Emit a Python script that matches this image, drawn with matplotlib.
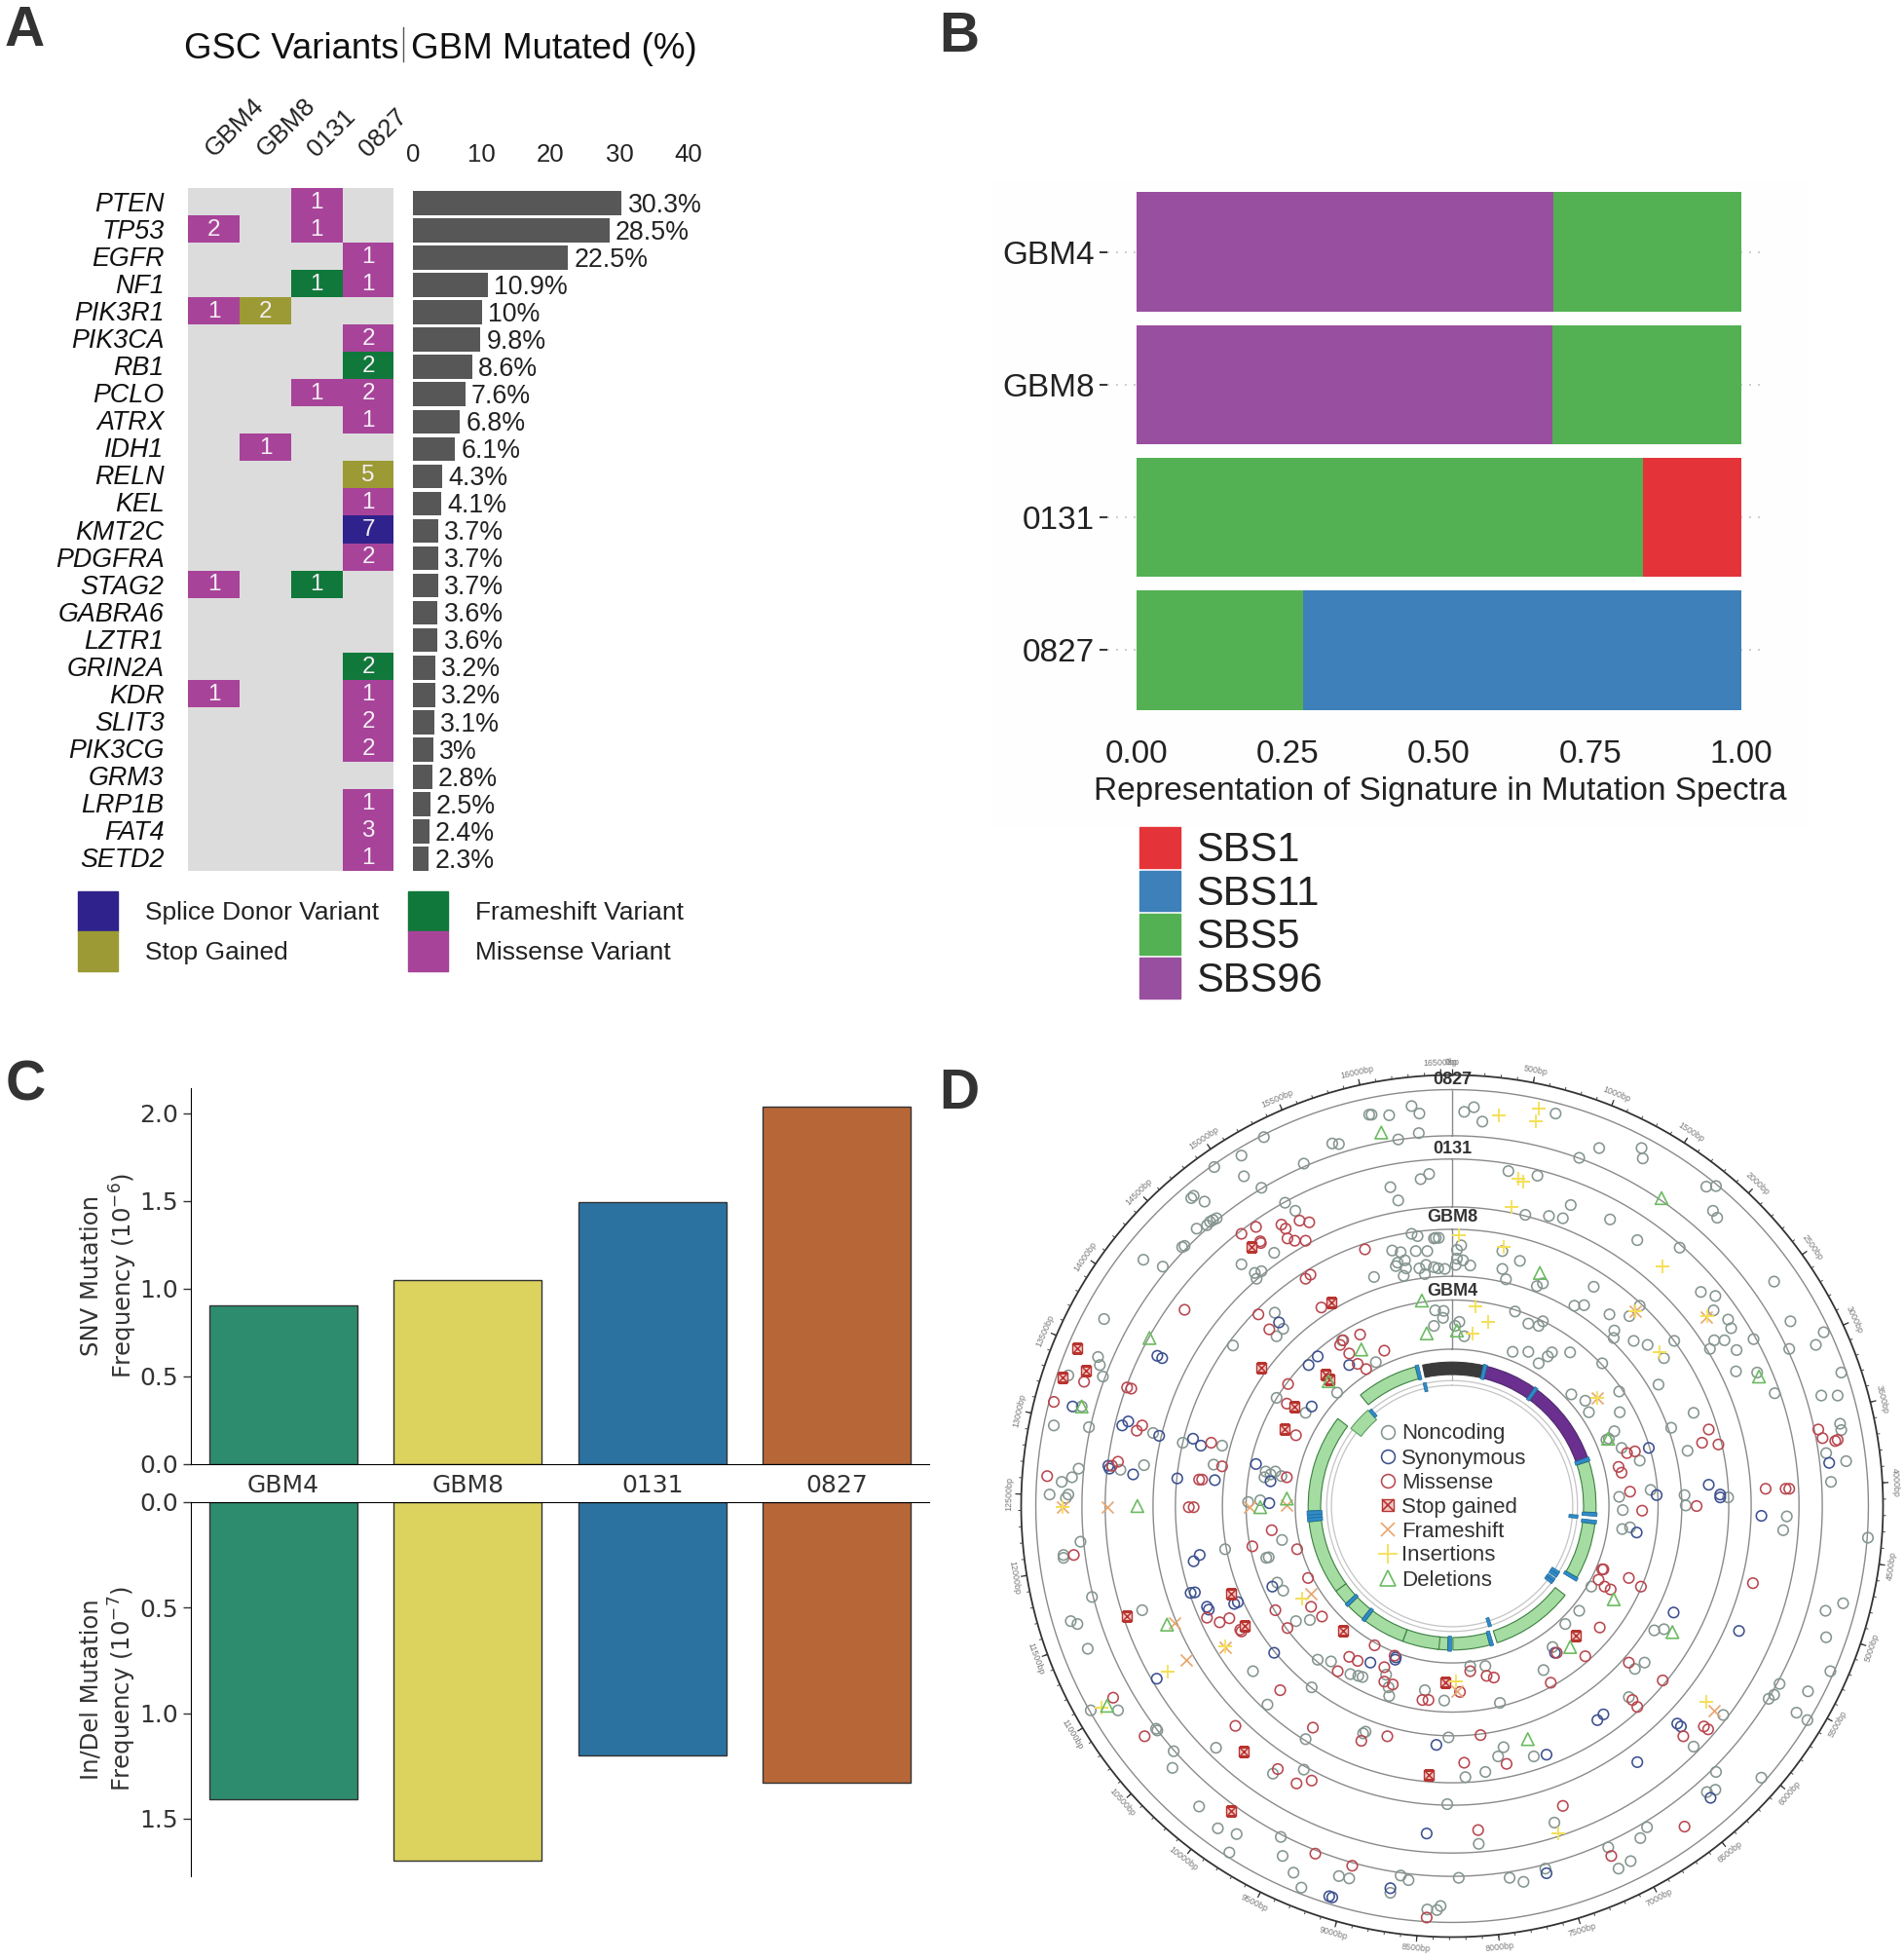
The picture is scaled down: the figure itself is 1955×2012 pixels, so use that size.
import numpy as np
import matplotlib
matplotlib.use("Agg")
import matplotlib.pyplot as plt
from matplotlib.colors import ListedColormap, BoundaryNorm
from matplotlib.legend_handler import HandlerTuple
from matplotlib.lines import Line2D
from matplotlib.patches import Patch, Rectangle

W, H = 1956, 2012
plt.rcParams['font.family'] = ['Liberation Sans', 'DejaVu Sans']
fig = plt.figure(figsize=(W / 100, H / 100), dpi=100, facecolor='white')


def axpx(l, t, r, b, **kw):
    return fig.add_axes([l / W, 1 - b / H, (r - l) / W, (b - t) / H], **kw)


def ftext(x, y, s, **kw):
    return fig.text(x / W, 1 - y / H, s, **kw)


# ---------------- Panel A data ----------------
genes = ['PTEN', 'TP53', 'EGFR', 'NF1', 'PIK3R1', 'PIK3CA', 'RB1', 'PCLO', 'ATRX', 'IDH1', 'RELN', 'KEL',
         'KMT2C', 'PDGFRA', 'STAG2', 'GABRA6', 'LZTR1', 'GRIN2A', 'KDR', 'SLIT3', 'PIK3CG', 'GRM3', 'LRP1B',
         'FAT4', 'SETD2']
samples = ['GBM4', 'GBM8', '0131', '0827']
gbm_pct = [30.3, 28.5, 22.5, 10.9, 10, 9.8, 8.6, 7.6, 6.8, 6.1, 4.3, 4.1, 3.7, 3.7, 3.7, 3.6, 3.6, 3.2, 3.2,
           3.1, 3, 2.8, 2.5, 2.4, 2.3]
# gene, sample, count, consequence
variants = [('PTEN', '0131', 1, 'M'), ('TP53', 'GBM4', 2, 'M'), ('TP53', '0131', 1, 'M'), ('EGFR', '0827', 1, 'M'),
            ('NF1', '0131', 1, 'F'), ('NF1', '0827', 1, 'M'), ('PIK3R1', 'GBM4', 1, 'M'),
            ('PIK3R1', 'GBM8', 2, 'S'), ('PIK3CA', '0827', 2, 'M'), ('RB1', '0827', 2, 'F'),
            ('PCLO', '0131', 1, 'M'), ('PCLO', '0827', 2, 'M'), ('ATRX', '0827', 1, 'M'), ('IDH1', 'GBM8', 1, 'M'),
            ('RELN', '0827', 5, 'S'), ('KEL', '0827', 1, 'M'), ('KMT2C', '0827', 7, 'D'),
            ('PDGFRA', '0827', 2, 'M'), ('STAG2', 'GBM4', 1, 'M'), ('STAG2', '0131', 1, 'F'),
            ('GRIN2A', '0827', 2, 'F'), ('KDR', 'GBM4', 1, 'M'), ('KDR', '0827', 1, 'M'), ('SLIT3', '0827', 2, 'M'),
            ('PIK3CG', '0827', 2, 'M'), ('LRP1B', '0827', 1, 'M'), ('FAT4', '0827', 3, 'M'), ('SETD2', '0827', 1, 'M')]
cons_names = {'D': 'Splice Donor Variant', 'S': 'Stop Gained', 'F': 'Frameshift Variant', 'M': 'Missense Variant'}
cons_colors = {'D': '#2f228c', 'S': '#9b9a34', 'F': '#10783a', 'M': '#a8439a'}
HEAT_BG = '#dcdcdc'

# ---------------- Panel B data ----------------
spec_samples = ['GBM4', 'GBM8', '0131', '0827']
sbs96 = [0.69, 0.687, 0, 0]
sbs5 = [0.31, 0.313, 0.837, 0.275]
sbs1 = [0, 0, 0.163, 0]
sbs11 = [0, 0, 0, 0.725]
sbs_colors = {'SBS1': '#e4343a', 'SBS11': '#3e80ba', 'SBS5': '#53b153', 'SBS96': '#994f9f'}

# ---------------- Panel C data ----------------
freq_samples = ['GBM4', 'GBM8', '0131', '0827']
snv_freq = [0.905, 1.05, 1.495, 2.04]
indel_freq = [1.41, 1.70, 1.20, 1.33]
freq_colors = ['#2e8c6e', '#dcd35e', '#2b72a1', '#b76737']

# ---------------- Panel D data (offsets in reading units) ----------------
noncoding = [(687,105),(683,105),(716,106),(753,90),(766,103),(765,137),(731,148),(856,92),(840,100),(870,117),(991,103),
(622,155),(633,156),(509,144),(472,176),(427,196),(476,212),(575,190),(505,232),(389,250),(393,246),(411,256),(310,357),(342,369),(378,333),(374,335),(398,303),(415,297),(425,288),(431,285),(420,291),(245,460),
(1030,180),(1063,163),(1133,163),(1135,181),(1240,230),(1256,229),(1251,272),(1258,284),(1196,336),(1352,395),(1126,323),(1081,287),(1016,262),(1003,285),(980,281),(941,279),
(913,203),(961,211),(768,217),(782,208),(718,231),(731,254),(544,258),(561,272),(526,345),(472,365),(494,380),(505,377),(497,390),
(793,319),(798,319),(753,312),(763,316),(721,341),(735,344),(742,358),(760,342),(779,342),(790,320),(835,332),(828,340),(744,372),(727,368),(740,385),(691,387),(777,366),(790,370),(775,382),(797,372),(808,373),(826,366),(838,358),(850,367),(828,355),(766,372),(730,362),(903,342),(932,359),(903,373),(909,391),(960,403),(970,398),(1054,404),(1022,437),(1038,436),
(1231,413),(1255,420),(1252,445),(1276,461),(1281,476),(1379,464),(1434,483),(1421,505),(1377,512),(1318,495),(1270,497),(1253,497),(1246,512),(1290,514),(1289,551),(1324,553),(1353,589),(1463,553),(1457,593),(1430,593),(1161,574),(1187,498),(1120,498),(1143,505),(1088,480),(1087,493),(1080,452),(1113,455),(1130,437),(1170,528),(1068,537),(1096,586),(1097,622),(1046,622),(1040,602),(1017,591),(1219,623),(1182,649),(1209,689),(1130,706),(1100,684),(1088,655),(1075,670),(1079,668),
(1461,642),(1463,653),(1471,707),(1438,693),(1446,743),(1507,840),(1204,766),(1206,784),(1102,792),(1096,769),(1148,757),(1101,825),(1114,822),(1276,770),(1367,827),(1373,803),
(924,447),(946,468),(970,464),(963,472),(920,517),(946,517),(978,525),(963,537),(985,518),(1015,518),(792,445),(806,446),(805,458),(790,472),(832,465),(825,472),(840,490),(638,497),(527,449),
(458,506),(541,477),(530,490),(530,597),(578,623),(630,588),(694,535),(186,558),(235,526),(238,540),(243,560),(220,648),(162,645),(208,612),(203,720),(192,735),(175,743),(155,765),(186,765),(182,771),(311,714),(272,722),(375,675),(426,713),(440,680),(326,658),(483,778),(512,725),(528,725),(503,775),(538,733),(539,844),(445,860),(513,875),(206,847),(178,875),(178,870),(225,943),(190,985),(201,990),(218,1033),(308,966),(223,1140),(268,1140),(331,1172),(333,1175),(360,1211),(358,1240),(402,1307),(433,1345),(464,1355),(452,1387),(537,1360),(540,1393),(558,1422),(571,1448),(633,1428),(650,1432),(735,1427),(748,1435),(718,1457),(779,1486),(801,1480),(795,1487),(831,1431),(915,1431),(938,1438),(974,1415),(1078,1378),(1095,1415),(1115,1402),(1131,1362),(1142,1343),(989,1335),(864,1372),(812,1303),
(430,1205),(524,1250),(575,1243),(578,1190),(491,1072),(515,1130),(588,1100),(598,1052),(620,1055),(652,1077),(665,1080),(672,1082),(673,1180),(677,1177),(715,1100),(711,1078),(716,1115),(775,1105),(807,1123),(899,1127),(875,1063),(850,1063),(814,1187),(905,1204),(896,1220),(955,1220),(875,1247),(842,1256),(1007,990),(1030,967),(1050,925),
(971,1070),(986,1030),(1138,1057),(1122,1068),(1112,1117),(1219,1203),(1256,1247),(1255,1278),(1241,1282),(1268,1148),(1343,1120),(1352,1113),(1361,1094),(1408,1107),(1389,1144),(1407,1157),(1445,1072),(1438,1013),(1437,967),(1466,954),(1331,1257),(1154,1001),(1170,999),(562,985),(585,983),(541,932),(531,918),(517,874),(510,735),(520,730)]
synonymous = [(193,612),(275,645),(285,638),(336,663),(252,715),(254,720),(293,730),(392,668),(405,680),(366,737),(428,740),(496,712),(520,742),(518,780),(534,466),(598,525),(588,612),(650,540),(1145,684),(1443,710),(1244,748),(1263,765),(1263,770),(1158,766),(1331,802),(1125,831),(333,524),(341,528),(403,870),(393,881),(388,936),(395,935),(415,960),(418,965),(466,952),(460,955),(523,925),(526,1040),(332,1085),(685,1057),(727,1048),(726,1052),(990,1040),(1186,970),(1294,1002),(1060,1157),(1070,1147),(1192,1163),(1198,1168),(1126,1230),(976,1217),(794,1200),(778,1354),(1247,1292),(718,1449),(622,1465),(617,1463),(976,1423),(583,540)]
missense = [(496,300),(472,312),(504,328),(538,296),(545,303),(568,289),(584,292),(548,320),(578,324),(560,324),(503,325),(586,383),(578,390),(378,444),(500,452),(518,478),(604,440),(640,497),(668,487),(708,515),(650,520),(678,547),(664,538),(635,505),(676,339),(162,604),(212,569),(283,579),(290,581),(308,645),(299,654),(268,708),(258,715),(151,733),(195,870),(549,573),(547,607),(562,662),(547,735),(440,716),(402,739),(407,739),(422,675),(393,787),(385,787),(522,827),(490,855),(564,860),(1244,652),(1233,675),(1260,678),(1425,652),(1432,667),(1453,672),(1457,670),(1109,693),(1122,690),(1095,717),(1100,727),(1114,760),(1134,793),(1224,785),(1338,755),(1371,755),(1377,755),(1068,895),(1070,895),(1062,913),(1072,925),(1082,930),(1112,910),(1132,925),(1317,919),(582,910),(587,960),(415,979),(436,987),(452,980),(470,1000),(472,1003),(528,966),(548,997),(605,977),(692,1027),(650,1047),(664,1054),(725,1045),(708,1065),(631,1072),(708,1090),(722,1095),(536,1105),(462,1167),(590,1170),(312,1185),(260,1118),(670,1193),(713,1185),(771,1122),(781,1122),(850,1072),(833,1108),(877,1080),(889,1083),(983,1092),(993,1040),(1040,1046),(1064,996),(1112,1057),(1168,1088),(1118,1122),(1126,1134),(1202,1185),(1236,1168),(1243,1173),(867,1183),(840,1231),(910,1233),(532,1242),(563,1267),(588,1262),(1003,1306),(1204,1342),(863,1348),(1083,1393),(594,1389),(655,1410),(778,1500)]
stop_gained = [(200,511),(177,562),(215,549),(488,334),(621,431),(505,544),(611,556),(618,565),(560,612),(543,652),(454,938),(477,994),(283,976),(639,1001),(476,1212),(455,1315),(781,1253),(808,1091),(1024,1010)]
frameshift = [(177,787),(251,786),(485,787),(547,784),(587,937),(445,1030),(362,988),(380,1053),(828,1107),(1253,1140),(1240,457),(1122,447),(1060,597)]
insertions = [(897,106),(963,95),(959,117),(930,216),(937,221),(918,266),(1168,368),(831,314),(905,335),(859,438),(880,465),(853,485),(1162,517),(1241,455),(1122,447),(1060,597),(573,946),(445,1028),(350,1072),(240,1135),(177,787),(995,1354),(1240,1125),(827,1090)]
deletions = [(703,136),(1166,250),(965,380),(770,428),(320,493),(670,513),(778,485),(828,480),(1327,560),(616,568),(208,612),(1078,668),(300,785),(503,787),(547,772),(1087,947),(1184,1004),(1015,1030),(349,991),(250,1132),(945,1190)]

GENOME = 16569
dloop = [(16024, 16569), (0, 576)]
rrna = [(648, 1601), (1671, 3229)]
genes_outer = [(3307, 4262), (4470, 5511), (5904, 7445), (7586, 8269), (8366, 8572), (8527, 9207), (9207, 9990),
               (10059, 10404), (10470, 10766), (10760, 12137), (12337, 14148), (14747, 15887)]
genes_inner = [(14149, 14673)]
trna_outer = [(577, 647), (1602, 1670), (3230, 3304), (4263, 4331), (4402, 4469), (5512, 5579), (7518, 7585),
              (8295, 8364), (9991, 10058), (10405, 10469), (12138, 12206), (12207, 12265), (12266, 12336),
              (15888, 15953)]
trna_inner = [(4329, 4400), (5587, 5655), (5657, 5729), (5761, 5826), (5826, 5891), (7446, 7514), (14674, 14742),
              (15956, 16023)]
track_rings = [1.0, 0.966, 0.859, 0.805, 0.694, 0.642, 0.533, 0.478, 0.364]
track_spans = [(0.859, 0.966), (0.694, 0.805), (0.533, 0.642), (0.364, 0.478)]
track_labels = [('0827', 0.988), ('0131', 0.829), ('GBM8', 0.671), ('GBM4', 0.499)]

# ---------------- Panel A ----------------
code = {'M': 1, 'F': 2, 'S': 3, 'D': 4}
mat = np.zeros((len(genes), len(samples)))
ax = axpx(193.5, 193, 404.5, 894)
cmap = ListedColormap([HEAT_BG, cons_colors['M'], cons_colors['F'], cons_colors['S'], cons_colors['D']])
for g, s, n, c in variants:
    mat[genes.index(g), samples.index(s)] = code[c]
ax.pcolormesh(np.arange(5) - .5, np.arange(26) - .5, mat, cmap=cmap,
              norm=BoundaryNorm(np.arange(-.5, 5), 5))
for g, s, n, c in variants:
    ax.annotate(str(n), (samples.index(s), genes.index(g)), xytext=(0, -0.6), textcoords='offset points',
                color='#f4eef4', fontsize=17.5, ha='center', va='center')
ax.set_ylim(24.5, -.5)
ax.set_yticks(range(len(genes)), genes, fontsize=19.4, style='italic', color='#111111')
ax.set_xticks([])
for i, s in enumerate(samples):
    ax.annotate(s, (i, 1), xycoords=('data', 'axes fraction'), xytext=(-3.5, 26), textcoords='offset points',
                fontsize=18.8, rotation=45, rotation_mode='anchor', ha='left', va='center', color='#222222',
                annotation_clip=False)
ax.tick_params(axis='y', length=0, pad=18)
for s in ax.spines.values():
    s.set_visible(False)

ax = axpx(424, 194.5, 707, 895.5)
ax.barh(range(len(genes)), gbm_pct, height=0.88, color='#575757')
for i, v in enumerate(gbm_pct):
    ax.annotate(f'{v:g}%', (v, i), xytext=(4.4, -1.6), textcoords='offset points', fontsize=19.3, va='center',
                color='#222222')
ax.set_ylim(24.5, -.5)
ax.set_xlim(0, 40)
ax.xaxis.tick_top()
ax.set_xticks([0, 10, 20, 30, 40])
ax.tick_params(axis='x', length=0, pad=17, labelsize=18.5, labelcolor='#222222')
ax.set_yticks([])
ax.patch.set_visible(False)
for s in ax.spines.values():
    s.set_visible(False)
ftext(189, 50, 'GSC Variants', fontsize=26.3, va='center', ha='left', color='#111111')
ftext(422, 50, 'GBM Mutated (%)', fontsize=26.5, va='center', ha='left', color='#111111')
fig.add_artist(Line2D([414 / W] * 2, [1 - 28 / H, 1 - 63 / H], color='#555555', lw=1))
handles = [Patch(color=cons_colors[k], label=cons_names[k]) for k in 'DSFM']
fig.legend(handles=handles, ncol=2, frameon=False, fontsize=19, loc='upper left', borderpad=0, borderaxespad=0,
           bbox_to_anchor=(80 / W, 1 - 915 / H), handlelength=1.55, handleheight=2.0, labelspacing=0.0,
           handletextpad=1.07, columnspacing=1.12, labelcolor='#222222')

# ---------------- Panel B ----------------
fig.add_artist(Rectangle((1018 / W, 1 - 850 / H), 838 / W, 665 / H, transform=fig.transFigure, fc='#fefefe', ec='none',
                         zorder=-5))
ax = axpx(1137, 177, 1813, 749)
ax.patch.set_visible(False)
lefts = np.zeros(4)
for name, vals in [('SBS96', sbs96), ('SBS5', sbs5), ('SBS1', sbs1), ('SBS11', sbs11)]:
    ax.barh(range(4), vals, left=lefts, height=0.9, color=sbs_colors[name], label=name, zorder=3)
    lefts += np.array(vals)
ax.set_xlim(-30 / 621, 1 + 25 / 621)
ax.set_ylim(3.6, -.6)
ax.set_yticks(range(4), spec_samples, fontsize=24, color='#222222')
ax.set_xticks([0, .25, .5, .75, 1], ['0.00', '0.25', '0.50', '0.75', '1.00'], fontsize=24, color='#222222')
ax.tick_params(axis='y', length=5.8, width=1.4, pad=3.6, color='#333333')
ax.tick_params(axis='x', length=0, pad=7)
ax.grid(axis='y', ls=(0, (1, 4)), color='#c4c4c4', lw=1.3, zorder=0)
ax.set_xlabel('Representation of Signature in Mutation Spectra', fontsize=24, color='#222222', labelpad=5, x=0.505)
for s in ax.spines.values():
    s.set_visible(False)
handles = [Patch(color=sbs_colors[k], label=k) for k in ['SBS1', 'SBS11', 'SBS5', 'SBS96']]
fig.legend(handles=handles, frameon=False, fontsize=30, loc='upper left', borderpad=0, borderaxespad=0,
           bbox_to_anchor=(1170 / W, 1 - 849 / H), handlelength=1.0, handleheight=1.16, labelspacing=0.02,
           handletextpad=0.39, labelcolor='#222222')

# ---------------- Panel C ----------------
dj = ['DejaVu Sans']
ax = axpx(196, 1117, 954, 1503)
ax.bar(range(4), snv_freq, width=0.8, color=freq_colors, edgecolor='#333333', lw=1)
ax.set_xlim(-.5, 3.5)
ax.set_ylim(0, 386 / 180)
ax.set_yticks([0, .5, 1, 1.5, 2], ['0.0', '0.5', '1.0', '1.5', '2.0'], fontsize=18, family=dj, color='#333333')
ax.set_xticks(range(4), freq_samples, fontsize=18, family=dj, color='#333333')
ax.tick_params(axis='x', length=0, pad=7)
ax.tick_params(axis='y', length=6, width=1, color='#333333')
ax.set_ylabel('SNV Mutation\nFrequency ($10^{-6}$)', fontsize=17.5, family=dj, color='#333333', labelpad=0)
ax.spines[['top', 'right']].set_visible(False)

ax = axpx(196, 1541.5, 954, 1926)
ax.bar(range(4), indel_freq, width=0.8, color=freq_colors, edgecolor='#333333', lw=1)
ax.set_xlim(-.5, 3.5)
ax.set_ylim(384.5 / 217, 0)
ax.set_yticks([0, .5, 1, 1.5], ['0.0', '0.5', '1.0', '1.5'], fontsize=18, family=dj, color='#333333')
ax.xaxis.tick_top()
ax.set_xticks([])
ax.tick_params(axis='y', length=6, width=1, color='#333333')
ax.set_ylabel('In/Del Mutation\nFrequency ($10^{-7}$)', fontsize=17.5, family=dj, color='#333333', labelpad=0.5)
ax.spines[['bottom', 'right']].set_visible(False)

# ---------------- Panel D ----------------
CX, CY, R = 1491, 1546, 442.5
RMAX = 1.12
ax = axpx(CX - R * RMAX, CY - R * RMAX, CX + R * RMAX, CY + R * RMAX, projection='polar')
ax.set_theta_zero_location('N')
ax.set_theta_direction(-1)
ax.set_ylim(0, RMAX)
ax.axis('off')
ax.patch.set_visible(False)


def th(bp):
    return np.asarray(bp) / GENOME * 2 * np.pi


def to_bp_r(points):
    p = np.array(points, float)
    dx, dy = (p[:, 0] - 820) / 712, (785 - p[:, 1]) / 749
    return (np.arctan2(dx, dy) % (2 * np.pi)) / (2 * np.pi) * GENOME, np.hypot(dx, dy)


circle = np.linspace(0, 2 * np.pi, 721)
for i, r in enumerate(track_rings):
    ax.plot(circle, np.full_like(circle, r), color='#333333' if i == 0 else '#8a8a8a', lw=1.3 if i == 0 else 1.0,
            zorder=1)
for r0, r1 in track_spans:
    ax.vlines(0, r0, r1, color='#8a8a8a', lw=1.0, zorder=1)
for r in (0.291, 0.28):
    ax.plot(circle, np.full_like(circle, r), color='#c4c4c4', lw=0.9, zorder=1)
ax.vlines(0, 0.291, 0.305, color='#aaaaaa', lw=0.8, zorder=1)

minor_bp = np.arange(0, GENOME, 100)
major_bp = np.arange(0, GENOME, 500)
ax.vlines(th(minor_bp), 1.0, 1.007, color='#444444', lw=0.7, zorder=1)
ax.vlines(th(major_bp), 1.0, 1.014, color='#333333', lw=0.9, zorder=1)
for bp in major_bp:
    deg = bp / GENOME * 360
    rot = -deg if deg <= 90 or deg >= 270 else 180 - deg
    ax.text(th(bp), 1.029, f'{bp}bp', fontsize=6.4, color='#777777', rotation=rot, rotation_mode='anchor',
            ha='center', va='center', zorder=2)


def arcs(segments, r0, r1, face, edge, lw=0.8, z=3):
    for a, b in segments:
        ax.bar(th((a + b) / 2), r1 - r0, width=th(b - a), bottom=r0, color=face, edgecolor=edge, lw=lw, zorder=z)


arcs(dloop, 0.305, 0.334, '#3a3a3a', '#3a3a3a')
arcs(rrna, 0.305, 0.334, '#6a2f8f', '#4c2a6a')
arcs(genes_outer, 0.305, 0.334, '#a5dca2', '#3c7f42')
arcs(genes_inner, 0.266, 0.296, '#a5dca2', '#5c9f62')
arcs(trna_outer, 0.302, 0.337, '#2f8bc8', '#1d6a9a', lw=0.5, z=4)
arcs(trna_inner, 0.272, 0.293, '#2f8bc8', '#1d6a9a', lw=0.5, z=4)

COL_NC, COL_SYN, COL_MIS, COL_STOP = '#85958f', '#3c5090', '#b8474f', '#b8332f'
COL_FS, COL_INS, COL_DEL = '#e8a670', '#f5df57', '#6cbb62'
ms = 58
for pts, col in [(noncoding, COL_NC), (synonymous, COL_SYN), (missense, COL_MIS)]:
    b, r = to_bp_r(pts)
    ax.scatter(th(b), r, s=ms, facecolors='none', edgecolors=col, linewidths=1.15, zorder=5)
b, r = to_bp_r(stop_gained)
ax.scatter(th(b), r, s=ms, marker='s', facecolors='#f0c8c6', edgecolors=COL_STOP, linewidths=1.0, zorder=6)
ax.scatter(th(b), r, s=ms * 0.8, marker='x', color=COL_STOP, linewidths=1.1, zorder=6)
b, r = to_bp_r(frameshift)
ax.scatter(th(b), r, s=75, marker='x', color=COL_FS, linewidths=1.2, zorder=6)
b, r = to_bp_r(insertions)
ax.scatter(th(b), r, s=105, marker='+', color=COL_INS, linewidths=1.3, zorder=6)
b, r = to_bp_r(deletions)
ax.scatter(th(b), r, s=85, marker='^', facecolors='none', edgecolors=COL_DEL, linewidths=1.2, zorder=6)
for lab, r in track_labels:
    ax.text(0, r, lab, fontsize=13, weight='bold', color='#333333', ha='center', va='center', zorder=7)

stop_handle = (Line2D([], [], ls='', marker='s', ms=9, mfc='#f0c8c6', mec=COL_STOP),
               Line2D([], [], ls='', marker='x', ms=9, mec=COL_STOP, mew=1.2))
leg = [Line2D([], [], ls='', marker='o', ms=10, mfc='none', mec=COL_NC, mew=1.15),
       Line2D([], [], ls='', marker='o', ms=10, mfc='none', mec=COL_SYN, mew=1.15),
       Line2D([], [], ls='', marker='o', ms=10, mfc='none', mec=COL_MIS, mew=1.15),
       stop_handle,
       Line2D([], [], ls='', marker='x', ms=10, mec=COL_FS, mew=1.2),
       Line2D([], [], ls='', marker='+', ms=14, mec=COL_INS, mew=1.3),
       Line2D([], [], ls='', marker='^', ms=11, mfc='none', mec=COL_DEL, mew=1.2)]
fig.legend(leg, ['Noncoding', 'Synonymous', 'Missense', 'Stop gained', 'Frameshift', 'Insertions', 'Deletions'],
           handler_map={tuple: HandlerTuple(ndivide=1, pad=0)}, frameon=False, fontsize=16, loc='center left',
           borderpad=0, borderaxespad=0, bbox_to_anchor=(1412 / W, 1 - 1547 / H), handlelength=1.2, labelspacing=0.18,
           handletextpad=0.02, labelcolor='#333333')

# ---------------- Panel letters ----------------
for s, x, y in [('A', 5, 47), ('B', 964, 53), ('C', 6, 1129), ('D', 964, 1138)]:
    ftext(x, y, s, fontsize=41, weight='bold', color='#333333', ha='left', va='baseline')

fig.savefig('out.png', dpi=100, facecolor='white')
